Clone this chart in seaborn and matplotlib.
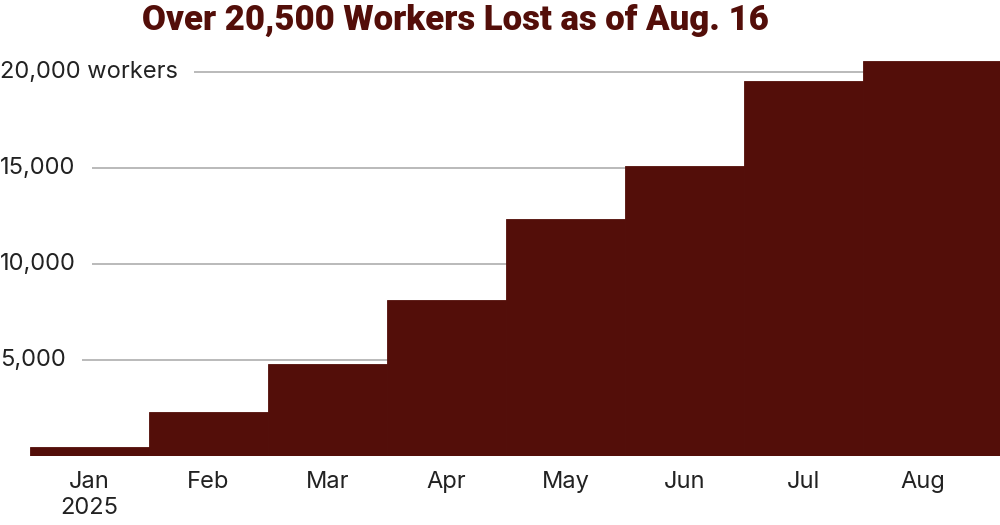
import matplotlib
matplotlib.use("Agg")
import matplotlib.pyplot as plt
import matplotlib.transforms as mtransforms
import pandas as pd
import seaborn as sns

# ─────────────────────────────────────────
# データ
# ─────────────────────────────────────────
MONTHS = ["Jan", "Feb", "Mar", "Apr", "May", "Jun", "Jul", "Aug"]
MONTH_LABELS = ["Jan\n2025", "Feb", "Mar", "Apr", "May", "Jun", "Jul", "Aug"]
WORKERS_LOST = [485, 2275, 4775, 8125, 12330, 15100, 19550, 20590]
Y_TICKS = [5000, 10000, 15000, 20000]
Y_TICK_LABELS = ["5,000", "10,000", "15,000", "20,000 workers"]

TITLE = "Over 20,500 Workers Lost as of Aug. 16"
BAR_COLOR = "#530e09"
TEXT_COLOR = "#222222"
GRID_COLOR = "#b4b4b4"

sns.set_theme(style="white")
plt.rcParams["font.family"] = ["Inter", "DejaVu Sans"]

df = pd.DataFrame({"month": MONTHS, "workers": WORKERS_LOST})

fig = plt.figure(figsize=(10, 5.25), dpi=100)
ax = fig.add_axes([0.03, 1 - 456 / 525, 0.97, (456 - 60.7) / 525])

sns.barplot(data=df, x="month", y="workers", color=BAR_COLOR, width=1.0,
            saturation=1, linewidth=0.6, edgecolor=BAR_COLOR, ax=ax, zorder=3)

x_right = 7.65
ax.set_xlim(-0.5, x_right)
ax.set_ylim(0, max(WORKERS_LOST))

# 最終月は右端まで伸ばす
last = ax.patches[-1]
last.set_width(x_right - last.get_x())

# グリッド線とラベル
for val in Y_TICKS:
    ax.axhline(val, color=GRID_COLOR, linewidth=1.3, zorder=1)
trans = mtransforms.blended_transform_factory(fig.transFigure, ax.transData)
for val, lab in zip(Y_TICKS, Y_TICK_LABELS):
    ax.text(0.0, val, lab, transform=trans, ha="left", va="center",
            fontsize=17, color=TEXT_COLOR, zorder=2, clip_on=False,
            bbox=dict(boxstyle="square,pad=0.7", facecolor="white", edgecolor="none"))

ax.set_yticks([])
ax.set_xticks(range(len(MONTHS)))
ax.set_xticklabels(MONTH_LABELS, fontsize=17, color=TEXT_COLOR, linespacing=1.2)
ax.tick_params(axis="x", length=0, pad=11)
ax.set_xlabel("")
ax.set_ylabel("")
sns.despine(ax=ax, left=True, bottom=True, top=True, right=True)

fig.text(0.142, 1 - 20 / 525, TITLE, ha="left", va="center",
         fontsize=25, fontweight="black", color=BAR_COLOR,
         family=["Roboto", "DejaVu Sans"])

fig.savefig("out.png", dpi=100, facecolor="white")
